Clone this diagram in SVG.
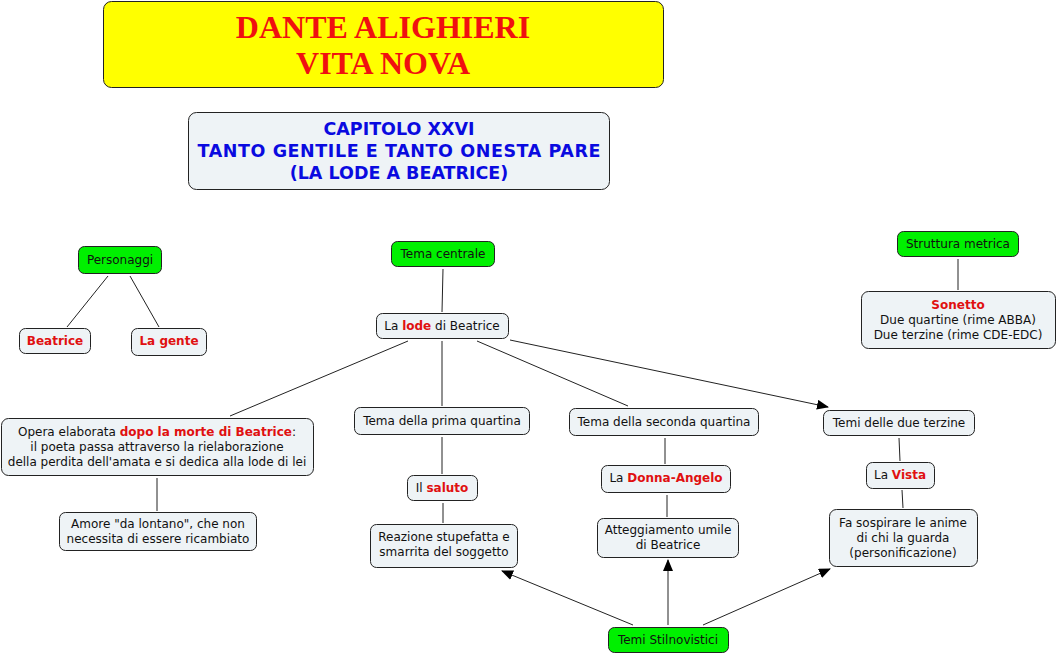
<svg xmlns="http://www.w3.org/2000/svg" width="1057" height="655" viewBox="0 0 1057 655">
<defs>
<marker id="ah" markerWidth="12" markerHeight="10" refX="11" refY="5" orient="auto" markerUnits="userSpaceOnUse"><path d="M0,0 L12,5 L0,10 Z" fill="#000"/></marker>
<style>
.n{fill:#EEF3F6;stroke:#222;stroke-width:1}
.g{fill:#00F000;stroke:#222;stroke-width:1}
.t{font-family:"DejaVu Sans",Verdana,sans-serif;font-size:12px;fill:#111;text-anchor:middle}
.r{fill:#E01010;font-weight:bold}
.c{stroke:#222;stroke-width:1;fill:none}
.s{font-family:"DejaVu Sans",Verdana,sans-serif;font-weight:bold;font-size:17.5px;fill:#0A0AE0;text-anchor:middle}
</style>
</defs>
<rect width="1057" height="655" fill="#fff"/>
<g id="connectors">
<line class="c" x1="108" y1="276" x2="67" y2="327"/>
<line class="c" x1="130" y1="276" x2="159" y2="327"/>
<line class="c" x1="443" y1="269" x2="442" y2="312"/>
<line class="c" x1="958" y1="259" x2="958" y2="290"/>
<line class="c" x1="408" y1="341" x2="230" y2="416"/>
<line class="c" x1="442" y1="341" x2="442" y2="406"/>
<line class="c" x1="477" y1="341" x2="628" y2="406"/>
<line class="c" x1="510" y1="340" x2="828" y2="407" marker-end="url(#ah)"/>
<line class="c" x1="157" y1="478" x2="157" y2="511"/>
<line class="c" x1="442" y1="437" x2="442" y2="474"/>
<line class="c" x1="443" y1="503" x2="443" y2="523"/>
<line class="c" x1="665" y1="438" x2="665" y2="464"/>
<line class="c" x1="667" y1="495" x2="667" y2="517"/>
<line class="c" x1="899" y1="438" x2="900" y2="461"/>
<line class="c" x1="902" y1="490" x2="903" y2="508"/>
<line class="c" x1="633" y1="625" x2="502" y2="571" marker-end="url(#ah)"/>
<line class="c" x1="668" y1="625" x2="668" y2="560" marker-end="url(#ah)"/>
<line class="c" x1="703" y1="625" x2="830" y2="569" marker-end="url(#ah)"/>
</g>
<g id="title">
<rect x="103.5" y="1.5" width="560" height="86" rx="8" fill="#FFFF00" stroke="#222"/>
<text x="383" y="38" text-anchor="middle" font-family="'Liberation Serif','Times New Roman',serif" font-weight="bold" font-size="32" fill="#F01010">DANTE ALIGHIERI</text>
<text x="383" y="74" text-anchor="middle" font-family="'Liberation Serif','Times New Roman',serif" font-weight="bold" font-size="32" fill="#F01010">VITA NOVA</text>
</g>
<g id="capitolo">
<rect class="n" x="188.5" y="112.5" width="421" height="77" rx="8"/>
<text class="s" x="399" y="135">CAPITOLO XXVI</text>
<text class="s" x="399" y="157" textLength="403" lengthAdjust="spacing">TANTO GENTILE E TANTO ONESTA PARE</text>
<text class="s" x="399" y="179">(LA LODE A BEATRICE)</text>
</g>
<g id="personaggi"><rect class="g" x="78.5" y="246.5" width="83" height="27" rx="6"/><text class="t" x="120" y="264">Personaggi</text></g>
<g id="beatrice"><rect class="n" x="19.5" y="328.5" width="71" height="25" rx="6"/><text class="t" x="55" y="345"><tspan class="r">Beatrice</tspan></text></g>
<g id="lagente"><rect class="n" x="131.5" y="328.5" width="75" height="27" rx="6"/><text class="t" x="169" y="345"><tspan class="r">La gente</tspan></text></g>
<g id="temacentrale"><rect class="g" x="391.5" y="241.5" width="103" height="25" rx="6"/><text class="t" x="443" y="258">Tema centrale</text></g>
<g id="lode"><rect class="n" x="376.5" y="313.5" width="132" height="25" rx="6"/><text class="t" x="442" y="330">La <tspan class="r">lode</tspan> di Beatrice</text></g>
<g id="struttura"><rect class="g" x="897.5" y="231.5" width="121" height="25" rx="6"/><text class="t" x="958" y="248">Struttura metrica</text></g>
<g id="sonetto"><rect class="n" x="861.5" y="291.5" width="194" height="57" rx="7"/>
<text class="t" x="958" y="309"><tspan class="r">Sonetto</tspan></text>
<text class="t" x="958" y="324">Due quartine (rime ABBA)</text>
<text class="t" x="958" y="339">Due terzine (rime CDE-EDC)</text></g>
<g id="opera"><rect class="n" x="1.5" y="418.5" width="312" height="57" rx="7"/>
<text class="t" x="157" y="436">Opera elaborata <tspan class="r">dopo la morte di Beatrice</tspan>:</text>
<text class="t" x="157" y="451">il poeta passa attraverso la rielaborazione</text>
<text class="t" x="157" y="466">della perdita dell'amata e si dedica alla lode di lei</text></g>
<g id="prima"><rect class="n" x="354.5" y="407.5" width="175" height="27" rx="6"/><text class="t" x="442" y="425">Tema della prima quartina</text></g>
<g id="seconda"><rect class="n" x="569.5" y="408.5" width="189" height="27" rx="6"/><text class="t" x="664" y="426">Tema della seconda quartina</text></g>
<g id="terzine"><rect class="n" x="823.5" y="410.5" width="151" height="25" rx="6"/><text class="t" x="899" y="427">Temi delle due terzine</text></g>
<g id="amore"><rect class="n" x="59.5" y="512.5" width="197" height="38" rx="6"/>
<text class="t" x="158" y="528">Amore "da lontano", che non</text>
<text class="t" x="158" y="543">necessita di essere ricambiato</text></g>
<g id="saluto"><rect class="n" x="407.5" y="475.5" width="70" height="25" rx="6"/><text class="t" x="442" y="492">Il <tspan class="r">saluto</tspan></text></g>
<g id="donna"><rect class="n" x="601.5" y="465.5" width="129" height="27" rx="6"/><text class="t" x="666" y="482">La <tspan class="r">Donna-Angelo</tspan></text></g>
<g id="vista"><rect class="n" x="866.5" y="462.5" width="68" height="26" rx="6"/><text class="t" x="900" y="479">La <tspan class="r">Vista</tspan></text></g>
<g id="reazione"><rect class="n" x="370.5" y="524.5" width="147" height="43" rx="6"/>
<text class="t" x="444" y="541">Reazione stupefatta e</text>
<text class="t" x="444" y="556">smarrita del soggetto</text></g>
<g id="atteggiamento"><rect class="n" x="597.5" y="518.5" width="141" height="39" rx="6"/>
<text class="t" x="668" y="534">Atteggiamento umile</text>
<text class="t" x="668" y="549">di Beatrice</text></g>
<g id="fasospirare"><rect class="n" x="829.5" y="509.5" width="148" height="57" rx="7"/>
<text class="t" x="903" y="527">Fa sospirare le anime</text>
<text class="t" x="903" y="542">di chi la guarda</text>
<text class="t" x="903" y="557">(personificazione)</text></g>
<g id="stilnovistici"><rect class="g" x="608.5" y="627.5" width="120" height="25" rx="6"/><text class="t" x="668" y="644">Temi Stilnovistici</text></g>
</svg>
